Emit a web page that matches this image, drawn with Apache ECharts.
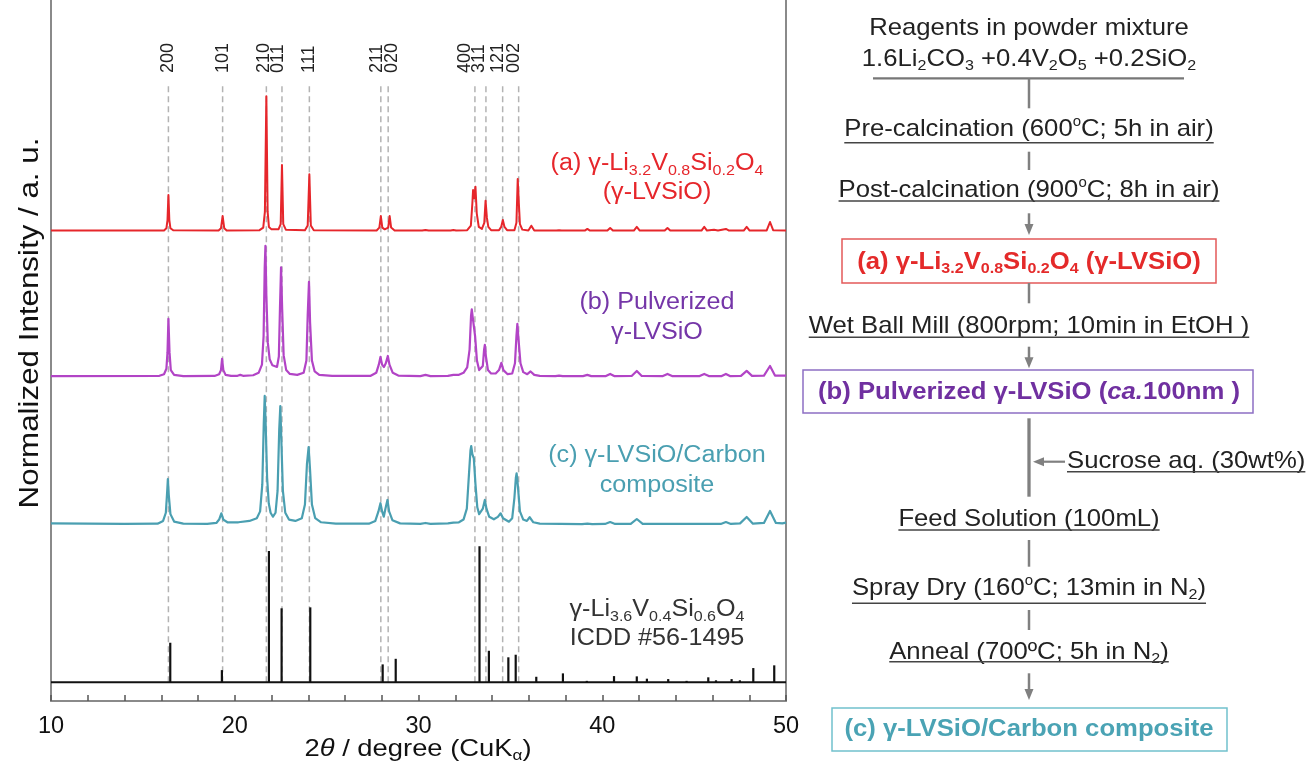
<!DOCTYPE html>
<html>
<head>
<meta charset="utf-8">
<script src="https://cdn.jsdelivr.net/npm/echarts@6/dist/echarts.min.js"></script>
<style>
  html, body { margin: 0; padding: 0; background: #ffffff; }
  #chart { width: 1308px; height: 767px; }
</style>
</head>
<body>
<div id="chart"></div>
<script>
// ---------------------------------------------------------------
// XRD patterns (2θ in degrees, normalized intensity) and ICDD card
// ---------------------------------------------------------------

// indexed reflections (dashed guide lines) and their Miller indices
const hklPos    = [16.39, 19.34, 21.72, 22.57, 24.06, 27.95, 28.35, 33.07, 33.67, 34.58, 35.45];
const hklLabels = ['200', '101', '210', '011', '111', '211', '020', '400', '311', '121', '002'];

// (a) γ-Li3.2V0.8Si0.2O4 as synthesized
const patternA = [
  [10.0, 0.3], [16.15, 0.4], [16.28, 2.0], [16.34, 8], [16.39, 26.5], [16.44, 8], [16.5, 2.0], [16.65, 0.5],
  [19.12, 0.4], [19.25, 2], [19.34, 11], [19.43, 2], [19.56, 0.4],
  [21.35, 0.6], [21.55, 2.5], [21.64, 14], [21.72, 99], [21.79, 14], [21.86, 3], [22.0, 1.2],
  [22.38, 1.2], [22.5, 5], [22.57, 48.5], [22.64, 5], [22.78, 1],
  [23.82, 0.5], [23.97, 4], [24.06, 41.7], [24.14, 4], [24.3, 0.5],
  [27.72, 0.4], [27.87, 2.5], [27.95, 11], [28.03, 2.5], [28.16, 1.2], [28.35, 2.5], [28.43, 11], [28.51, 2.5], [28.7, 0.4],
  [30.2, 0.3], [30.38, 0.8], [30.55, 0.3],
  [31.75, 0.3], [31.9, 0.7], [32.05, 0.3],
  [32.65, 0.6], [32.85, 4], [32.93, 20], [32.97, 30.1], [33.03, 24], [33.1, 32.5], [33.17, 13], [33.28, 3], [33.45, 1.5],
  [33.58, 6], [33.65, 22.3], [33.72, 10], [33.8, 3], [33.95, 0.6],
  [34.38, 0.5], [34.5, 3], [34.59, 8.1], [34.68, 3], [34.82, 0.6],
  [35.22, 0.6], [35.33, 6], [35.40, 38.2], [35.46, 20.6], [35.52, 5], [35.65, 1],
  [35.98, 0.4], [36.14, 3.9], [36.3, 0.4],
  [37.5, 0.3], [37.65, 0.6], [37.8, 0.3],
  [39.05, 0.3], [39.19, 1.5], [39.33, 0.3],
  [40.28, 0.3], [40.43, 2.2], [40.58, 0.3],
  [41.72, 0.3], [41.88, 3], [42.04, 0.3],
  [43.4, 0.3], [43.55, 2.2], [43.7, 0.3],
  [45.4, 0.3], [45.55, 3], [45.7, 0.3], [46.08, 0.9], [46.3, 0.3], [46.73, 1.5], [46.9, 0.3],
  [47.7, 0.3], [47.86, 3], [48.02, 0.3],
  [48.95, 0.4], [49.13, 6.6], [49.3, 0.6], [50.0, 0.3]
];

// (b) pulverized γ-LVSiO
const patternB = [
  [10.0, 0.6], [15.9, 0.8], [16.15, 2], [16.28, 6], [16.34, 18], [16.39, 42.6], [16.45, 18], [16.52, 5], [16.7, 1.5], [17.2, 0.6],
  [18.9, 0.7], [19.15, 2], [19.25, 5], [19.31, 13.2], [19.38, 5], [19.5, 1.5], [19.8, 0.7],
  [20.15, 0.8], [20.3, 1.5], [20.45, 0.8],
  [21.0, 1.2], [21.3, 3], [21.48, 9], [21.57, 30], [21.63, 80], [21.67, 96.3], [21.72, 60], [21.8, 25], [21.9, 13], [22.05, 8.5],
  [22.3, 7.3], [22.4, 15], [22.46, 50], [22.52, 80.5], [22.58, 50], [22.66, 16], [22.8, 5], [23.0, 2.2], [23.4, 1.5],
  [23.75, 3], [23.9, 12], [23.97, 45], [24.04, 69.8], [24.1, 40], [24.2, 12], [24.35, 4], [24.6, 1.5], [25.3, 0.7],
  [27.4, 0.8], [27.7, 3], [27.84, 9], [27.93, 14.7], [28.02, 9], [28.12, 7.3], [28.22, 10], [28.33, 15.4], [28.42, 9], [28.6, 3], [28.9, 1],
  [30.1, 0.6], [30.38, 1.5], [30.65, 0.6],
  [31.6, 0.8], [31.9, 1.5], [32.2, 1.5], [32.45, 3], [32.65, 7], [32.78, 20], [32.86, 45], [32.9, 49.6], [32.95, 44], [33.01, 43],
  [33.08, 30], [33.18, 12], [33.3, 5], [33.38, 3.9], [33.5, 8], [33.57, 20], [33.61, 23.5], [33.67, 15], [33.78, 5], [33.95, 2.5],
  [34.2, 2.5], [34.38, 5], [34.51, 10.3], [34.62, 5], [34.85, 2], [35.1, 2.5], [35.25, 10], [35.33, 30], [35.38, 39], [35.44, 28],
  [35.55, 10], [35.7, 3.5], [35.92, 2], [36.1, 4], [36.3, 1.5], [36.6, 0.7],
  [37.45, 0.6], [37.65, 1], [37.85, 0.6],
  [38.95, 0.6], [39.19, 1.5], [39.4, 0.6],
  [40.2, 0.6], [40.43, 2.2], [40.65, 0.6],
  [41.6, 0.7], [41.88, 4.4], [42.15, 0.7],
  [43.3, 0.6], [43.55, 2.2], [43.8, 0.6],
  [45.3, 0.6], [45.55, 2.2], [45.8, 0.6],
  [46.5, 0.6], [46.73, 2.2], [46.95, 0.6],
  [47.55, 0.8], [47.86, 4.4], [48.15, 0.8],
  [48.8, 1], [49.13, 8], [49.4, 1], [50.0, 1.0]
];

// (c) γ-LVSiO/carbon composite
const patternC = [
  [10.0, 1.2], [12.0, 1.0], [14.0, 0.8], [15.8, 1.0], [16.1, 3], [16.25, 9], [16.32, 24], [16.36, 33.8], [16.41, 22], [16.5, 8], [16.7, 2.5], [17.2, 1],
  [18.5, 0.8], [19.0, 1.5], [19.15, 4], [19.27, 8.6], [19.38, 4], [19.6, 2], [20.2, 2], [20.8, 3],
  [21.2, 5], [21.38, 10], [21.5, 30], [21.58, 75], [21.63, 94.8], [21.68, 75], [21.76, 35], [21.85, 16], [21.95, 9], [22.08, 6.1],
  [22.22, 9], [22.33, 25], [22.42, 70], [22.48, 87.4], [22.54, 60], [22.62, 25], [22.75, 9], [22.95, 4], [23.3, 3],
  [23.65, 5], [23.82, 15], [23.93, 45], [24.02, 57.3], [24.1, 40], [24.2, 15], [24.38, 5], [24.7, 2], [25.5, 1],
  [27.3, 1], [27.65, 3], [27.82, 10], [27.93, 16], [28.02, 10], [28.11, 6.1], [28.2, 12], [28.31, 18.4], [28.4, 10], [28.58, 3.5], [29.0, 1.2],
  [30.1, 0.8], [30.38, 1.5], [30.65, 0.8],
  [31.6, 1.2], [31.9, 1.8], [32.2, 2], [32.45, 4], [32.63, 12], [32.75, 38], [32.83, 55], [32.87, 58], [32.93, 52], [33.01, 49],
  [33.1, 30], [33.2, 13], [33.3, 8], [33.38, 6.6], [33.5, 12], [33.61, 18.4], [33.7, 12], [33.85, 6], [34.1, 4.2],
  [34.32, 6], [34.47, 8.6], [34.6, 5], [34.92, 2.4], [35.1, 5], [35.22, 20], [35.3, 35], [35.34, 38], [35.4, 30], [35.52, 10],
  [35.7, 4], [35.9, 3], [36.05, 5.7], [36.25, 2], [36.6, 1],
  [38.9, 0.6], [39.19, 1], [39.45, 0.6],
  [40.15, 0.8], [40.43, 2.2], [40.7, 0.8],
  [41.55, 0.8], [41.88, 4.4], [42.2, 0.8],
  [46.45, 0.8], [46.73, 2.2], [47.0, 0.8],
  [47.5, 1.2], [47.86, 5.9], [48.2, 1],
  [48.8, 1.5], [49.13, 10.3], [49.45, 1.5], [49.8, 1.2], [50.0, 1.8]
];

// ICDD #56-1495 reference lines: [2θ, relative intensity]
const icddSticks = [
  [16.49, 29.1], [19.30, 9.0], [21.86, 96.5], [22.55, 54.4], [24.11, 55.1], [28.05, 13.2], [28.76, 17.3],
  [33.32, 100], [33.83, 23.2], [34.89, 18.4], [35.29, 20.3], [36.41, 4.1], [37.86, 6.6], [39.16, 1.1],
  [40.64, 4.6], [41.88, 4.4], [42.43, 2.7], [43.59, 2.4], [44.59, 1.1], [45.77, 3.7], [46.19, 1.5],
  [47.04, 2.4], [47.49, 1.5], [48.22, 10.5], [49.36, 12.5]
];

// x-axis tick labels
const xTickLabels = [10, 20, 30, 40, 50];

// ---------------------------------------------------------------
// layout / style
// ---------------------------------------------------------------
const FONT = '"Liberation Sans", Arial, Helvetica, sans-serif';
const SX = 1.07;                  // slight horizontal widening of annotation text
const Y_MAX = 515;
const OFF_A = 345.3, OFF_B = 238.1, OFF_C = 129.3, OFF_ICDD = 13.7;   // vertical stacking offsets
const HKL_TOP = 452.6, HKL_LABEL = 461.4;
const HKL_LABEL_SHIFT = [0, 0, -2.5, -3.5, 0, -4, 4, -9.5, -6.5, -5, -5];   // px, keeps labels from colliding

const COL_A = '#e6262b', COL_B = '#b244c6', COL_C = '#4a9fb1';
const GRAY = '#808080';

const shifted = (arr, off) => arr.map(([x, y]) => [x, y + off]);

// text measurement for hand-built rich rows (subscripts, superscripts, underline)
const mctx = document.createElement('canvas').getContext('2d');
function measure(t, size, weight, style) {
  mctx.font = `${style} ${weight} ${size}px ${FONT}`;
  return mctx.measureText(t).width;
}
function row(pieces, cx, cy, opt) {
  const size = opt.size || 24;
  const sx = opt.sx || SX;
  const weight = opt.bold ? 'bold' : 'normal';
  const fill = opt.color || '#222';
  const kids = [];
  let x = 0;
  for (const [t, kind] of pieces) {
    let s = size, dy = 0, st = 'normal';
    if (kind === 'sub') { s = Math.round(size * 0.64); dy = size * 0.3; }
    if (kind === 'sup') { s = Math.round(size * 0.6); dy = -size * 0.3; }
    if (kind === 'it') st = 'italic';
    const w = measure(t, s, weight, st);
    kids.push({
      type: 'text', x: x, y: dy,
      style: {
        text: t, fill: fill, fontSize: s, fontFamily: FONT, fontWeight: weight, fontStyle: st,
        textAlign: 'left', textVerticalAlign: 'middle', align: 'left', verticalAlign: 'middle'
      }
    });
    x += w;
  }
  if (opt.underline !== undefined) {
    const uy = opt.underline - cy;
    kids.push({ type: 'line', shape: { x1: 0, y1: uy, x2: x, y2: uy }, style: { stroke: '#444', lineWidth: 1.6 } });
  }
  const inner = { type: 'group', x: opt.left !== undefined ? 0 : -x * sx / 2, y: 0, scaleX: sx, children: kids };
  return {
    type: 'group', x: opt.left !== undefined ? opt.left : cx, y: cy,
    rotation: opt.rotation || 0, silent: true, children: [inner]
  };
}
function vline(x, y1, y2, w) {
  return { type: 'line', shape: { x1: x, y1: y1, x2: x, y2: y2 }, style: { stroke: GRAY, lineWidth: w || 2.5 }, silent: true };
}
function downArrow(x, y1, y2) {
  return [
    vline(x, y1, y2 - 9),
    { type: 'polygon', shape: { points: [[x - 4.5, y2 - 11], [x + 4.5, y2 - 11], [x, y2]] }, style: { fill: GRAY }, silent: true }
  ];
}

// ---------------------------------------------------------------
// flow chart of the synthesis route (right panel)
// ---------------------------------------------------------------
const CX = 1029;
const flow = [
  row([['Reagents in powder mixture']], CX, 28.7, {}),
  row([['1.6Li'], ['2', 'sub'], ['CO'], ['3', 'sub'], [' +0.4V'], ['2', 'sub'], ['O'], ['5', 'sub'], [' +0.2SiO'], ['2', 'sub']], CX, 59, {}),
  { type: 'line', shape: { x1: 873, y1: 78.3, x2: 1184, y2: 78.3 }, style: { stroke: '#777', lineWidth: 2.2 }, silent: true },
  vline(CX, 78.3, 108.3),
  row([['Pre-calcination (600'], ['o', 'sup'], ['C; 5h in air)']], CX, 129.5, { underline: 142.7 }),
  vline(CX, 151.7, 170),
  row([['Post-calcination (900'], ['o', 'sup'], ['C; 8h in air)']], CX, 190.3, { underline: 201 }),
  ...downArrow(CX, 213.3, 235),
  { type: 'rect', shape: { x: 842, y: 239, width: 374, height: 44 }, style: { fill: '#fff', stroke: '#e45a5a', lineWidth: 1.5 }, silent: true },
  row([['(a) γ-Li'], ['3.2', 'sub'], ['V'], ['0.8', 'sub'], ['Si'], ['0.2', 'sub'], ['O'], ['4', 'sub'], [' (γ-LVSiO)']], CX, 262,
      { bold: true, color: '#e42a2a' }),
  vline(CX, 283, 303.3),
  row([['Wet Ball Mill (800rpm; 10min in EtOH )']], CX, 326, { underline: 337.3 }),
  ...downArrow(CX, 346.7, 368.3),
  { type: 'rect', shape: { x: 803, y: 370, width: 450, height: 43 }, style: { fill: '#fff', stroke: '#8d6fc4', lineWidth: 1.5 }, silent: true },
  row([['(b) Pulverized γ-LVSiO ('], ['ca.', 'it'], ['100nm )']], CX, 392, { bold: true, color: '#7030a0' }),
  vline(CX, 418.3, 496.7, 3.3),
  { type: 'line', shape: { x1: 1065, y1: 461.7, x2: 1042, y2: 461.7 }, style: { stroke: GRAY, lineWidth: 2.2 }, silent: true },
  { type: 'polygon', shape: { points: [[1044, 457.2], [1044, 466.2], [1033, 461.7]] }, style: { fill: GRAY }, silent: true },
  row([['Sucrose aq. (30wt%)']], CX, 461, { underline: 471.7, left: 1067 }),
  row([['Feed Solution (100mL)']], CX, 519, { underline: 530 }),
  vline(CX, 540, 566.7),
  row([['Spray Dry (160'], ['o', 'sup'], ['C; 13min in N'], ['2', 'sub'], [')']], CX, 588, { underline: 603.3 }),
  vline(CX, 610, 630),
  row([['Anneal (700ºC; 5h in N'], ['2', 'sub'], [')']], CX, 652, { underline: 661.7 }),
  ...downArrow(CX, 673.3, 700),
  { type: 'rect', shape: { x: 832, y: 708, width: 395, height: 43 }, style: { fill: '#fff', stroke: '#72c1cd', lineWidth: 1.5 }, silent: true },
  row([['(c) γ-LVSiO/Carbon composite']], CX, 729, { bold: true, color: '#4aa3b4' })
];

// pattern captions inside the plot
const LX = 657;
const captions = [
  row([['(a) γ-Li'], ['3.2', 'sub'], ['V'], ['0.8', 'sub'], ['Si'], ['0.2', 'sub'], ['O'], ['4', 'sub']], LX, 164, { size: 23.5, color: COL_A }),
  row([['(γ-LVSiO)']], LX, 193, { size: 23.5, color: COL_A }),
  row([['(b) Pulverized']], LX, 303, { size: 23.5, color: '#7536a8' }),
  row([['γ-LVSiO']], LX, 333, { size: 23.5, color: '#7536a8' }),
  row([['(c) γ-LVSiO/Carbon']], LX, 456, { size: 23.5, color: COL_C }),
  row([['composite']], LX, 486, { size: 23.5, color: COL_C }),
  row([['γ-Li'], ['3.6', 'sub'], ['V'], ['0.4', 'sub'], ['Si'], ['0.6', 'sub'], ['O'], ['4', 'sub']], LX, 610, { size: 23.5, color: '#333' }),
  row([['ICDD #56-1495']], LX, 639, { size: 23.5, color: '#333' })
];

// axis titles
const axisTitles = [
  row([['2'], ['θ', 'it'], [' / degree (CuK'], ['α', 'sub'], [')']], 418, 749, { size: 24, sx: 1.14, color: '#111' }),
  row([['Normalized Intensity / a. u.']], 31, 323, { size: 27, sx: 1.16, color: '#111', rotation: Math.PI / 2 })
];

// ---------------------------------------------------------------
// chart
// ---------------------------------------------------------------
const chart = echarts.init(document.getElementById('chart'), null, { renderer: 'canvas' });

const option = {
  animation: false,
  backgroundColor: '#ffffff',
  grid: { left: 51, right: 522, top: 0, bottom: 66, containLabel: false },
  xAxis: {
    type: 'value', min: 10, max: 50, interval: 2,
    axisLine: { show: true, onZero: false, lineStyle: { color: '#8a8a8a', width: 2 } },
    axisTick: { show: true, inside: true, length: 6, lineStyle: { color: '#555', width: 1.5 } },
    axisLabel: {
      fontSize: 23.5, fontFamily: FONT, color: '#111', margin: 14,
      formatter: v => (xTickLabels.indexOf(v) >= 0 ? String(v) : '')
    },
    splitLine: { show: false }
  },
  yAxis: [
    {
      type: 'value', min: 0, max: Y_MAX,
      axisLine: { show: true, lineStyle: { color: '#8a8a8a', width: 2 } },
      axisTick: { show: false }, axisLabel: { show: false }, splitLine: { show: false }
    },
    {
      type: 'value', min: 0, max: Y_MAX, position: 'right',
      axisLine: { show: true, lineStyle: { color: '#8a8a8a', width: 2 } },
      axisTick: { show: false }, axisLabel: { show: false }, splitLine: { show: false }
    }
  ],
  series: [
    {
      // dashed guide lines at the indexed reflections with their hkl labels
      type: 'custom', z: 1, silent: true, clip: false,
      data: hklPos.map((x, i) => [x, i]),
      renderItem: (params, api) => {
        const i = params.dataIndex;
        const x = api.value(0);
        const pb = api.coord([x, OFF_ICDD]);
        const pt = api.coord([x, HKL_TOP]);
        const pl = api.coord([x, HKL_LABEL]);
        return {
          type: 'group',
          children: [
            { type: 'line', shape: { x1: pb[0], y1: pb[1], x2: pt[0], y2: pt[1] },
              style: { stroke: '#b3b3b3', lineWidth: 1.5, lineDash: [6, 4] } },
            { type: 'text', x: pl[0] + HKL_LABEL_SHIFT[i], y: pl[1], rotation: Math.PI / 2,
              style: { text: hklLabels[i], fill: '#222', fontSize: 18, fontFamily: FONT,
                       textAlign: 'left', textVerticalAlign: 'middle', align: 'left', verticalAlign: 'middle' } }
          ]
        };
      }
    },
    {
      name: '(a)', type: 'line', data: shifted(patternA, OFF_A), showSymbol: false, z: 3,
      lineStyle: { color: COL_A, width: 2, join: 'round' }, silent: true
    },
    {
      name: '(b)', type: 'line', data: shifted(patternB, OFF_B), showSymbol: false, z: 3,
      lineStyle: { color: COL_B, width: 2.2, join: 'round' }, silent: true
    },
    {
      name: '(c)', type: 'line', data: shifted(patternC, OFF_C), showSymbol: false, z: 3,
      lineStyle: { color: COL_C, width: 2.2, join: 'round' }, silent: true
    },
    {
      // ICDD baseline
      type: 'line', data: [[10, OFF_ICDD], [50, OFF_ICDD]], showSymbol: false, z: 3,
      lineStyle: { color: '#111', width: 2 }, silent: true
    },
    {
      // ICDD stick pattern
      type: 'custom', z: 4, silent: true, data: icddSticks,
      renderItem: (params, api) => {
        const x = api.value(0);
        const p0 = api.coord([x, OFF_ICDD]);
        const p1 = api.coord([x, OFF_ICDD + api.value(1)]);
        return { type: 'line', shape: { x1: p0[0], y1: p0[1], x2: p1[0], y2: p1[1] },
                 style: { stroke: '#111', lineWidth: 2.2 } };
      }
    }
  ],
  graphic: [...axisTitles, ...captions, ...flow]
};

chart.setOption(option);
</script>
</body>
</html>
